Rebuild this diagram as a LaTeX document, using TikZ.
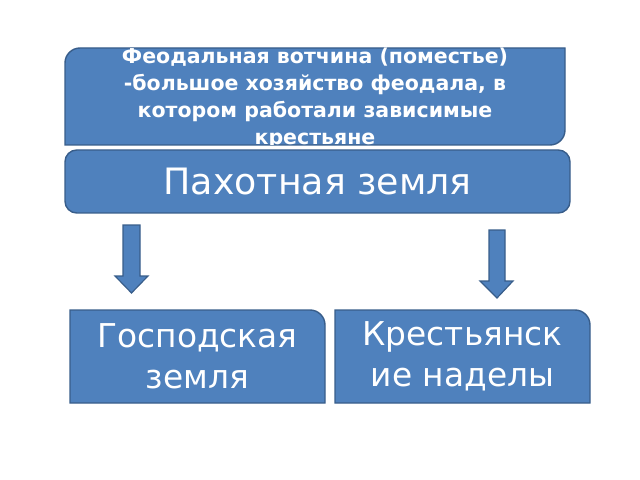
\documentclass[tikz,border=0pt]{standalone}
\usepackage{fontspec}
\setmainfont{DejaVu Sans}
\usetikzlibrary{arrows.meta}
\definecolor{boxblue}{HTML}{4F81BD}
\definecolor{boxedge}{HTML}{385D8A}
\tikzset{%
  % Specifications for style of shapes:
     base/.style = {fill=boxblue, draw=boxedge, line width=1.2pt},
  boxtext/.style = {text=white, align=center},
}
\begin{document}
\begin{tikzpicture}[x=0.03cm, y=-0.03cm]
  \useasboundingbox (0,0) rectangle (640,480);
  % Top box: rounded top-left and bottom-right corners
  \path[base] (65,145) -- (65,63) arc[start angle=180, end angle=270, radius=15]
     -- (565,48) -- (565,130) arc[start angle=0, end angle=90, radius=15] -- cycle;
  \begin{scope}
    \clip (65,48) rectangle (565,145);
    \node (feud) [boxtext, font=\bfseries\fontsize{17.5}{23}\selectfont] at (315,98)
      {Феодальная вотчина (поместье)\\-большое хозяйство феодала, в\\котором работали зависимые\\крестьяне};
  \end{scope}
  % Arable land
  \path[base, rounded corners=10] (65,150) rectangle (570,213);
  \node (arable) [boxtext, font=\fontsize{31}{36}\selectfont] at (317.5,182) {Пахотная земля};
  % Block arrows
  \path[base, line width=1pt] (123,225) -- (140,225) -- (140,276) -- (148,276)
     -- (131.5,293) -- (115,276) -- (123,276) -- cycle;
  \path[base, line width=1pt] (489,230) -- (505,230) -- (505,281) -- (513,281)
     -- (497,298) -- (480,281) -- (489,281) -- cycle;
  % Lower boxes: rounded top-right corner
  \path[base] (70,310) -- (310,310) arc[start angle=-90, end angle=0, radius=15]
     -- (325,403) -- (70,403) -- cycle;
  \node (lord) [boxtext, font=\fontsize{28}{35}\selectfont] at (197.5,356) {Господская\\земля};
  \path[base] (335,310) -- (575,310) arc[start angle=-90, end angle=0, radius=15]
     -- (590,403) -- (335,403) -- cycle;
  \node (peasant) [boxtext, font=\fontsize{28}{35}\selectfont] at (462.5,356) {Крестьянск\\ие наделы};
\end{tikzpicture}
\end{document}
